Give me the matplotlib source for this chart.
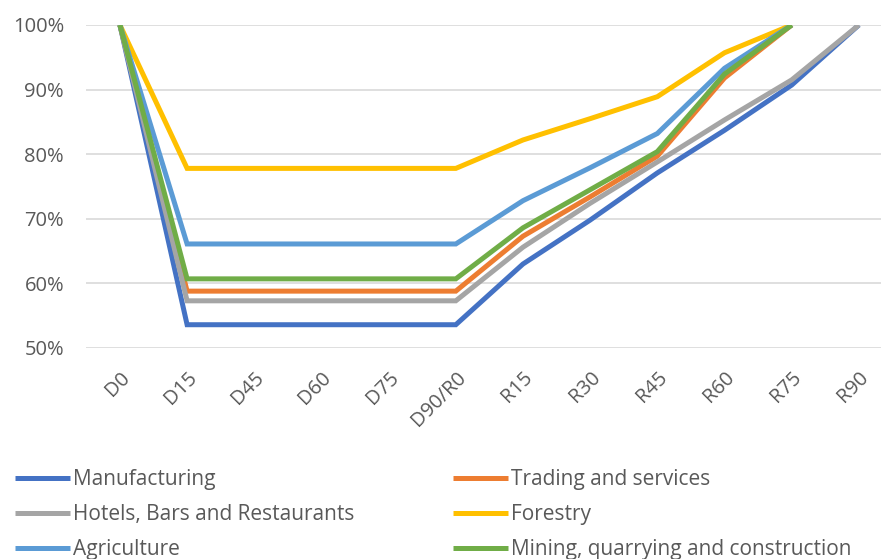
import numpy as np
import matplotlib.pyplot as plt
from matplotlib.ticker import PercentFormatter

# categories along the x axis
periods = ["D0", "D15", "D45", "D60", "D75", "D90/R0",
           "R15", "R30", "R45", "R60", "R75", "R90"]

nan = np.nan
manufacturing = [1.0, .536, .536, .536, .536, .536, .630, .698, .771, .837, .907, 1.0]
trading = [1.0, .588, .588, .588, .588, .588, .673, .734, .797, .918, 1.0, nan]
hotels = [1.0, .573, .573, .573, .573, .573, .656, .724, .788, .853, .915, 1.0]
forestry = [1.0, .778, .778, .778, .778, .778, .822, .855, .889, .957, 1.0, nan]
agriculture = [1.0, .661, .661, .661, .661, .661, .728, .779, .832, .933, 1.0, nan]
mining = [1.0, .607, .607, .607, .607, .607, .686, .745, .804, .924, 1.0, nan]

series = [
    ("Manufacturing", manufacturing, "#4472C4"),
    ("Trading and services", trading, "#ED7D31"),
    ("Hotels, Bars and Restaurants", hotels, "#A5A5A5"),
    ("Forestry", forestry, "#FFC000"),
    ("Agriculture", agriculture, "#5B9BD5"),
    ("Mining, quarrying and construction", mining, "#70AD47"),
]

plt.rcParams['font.family'] = ['Open Sans', 'DejaVu Sans']

fig = plt.figure(figsize=(8.81, 5.59), dpi=100)
ax = fig.add_axes([0.098, 0.3775, 0.915, 0.5778])

x = np.arange(len(periods))
handles = {}
for name, vals, col in series:
    ln, = ax.plot(x, vals, color=col, lw=3.6, solid_joinstyle='miter',
                  solid_capstyle='butt', label=name)
    handles[name] = ln

ax.set_xlim(-0.5, len(periods) - 0.5)
ax.set_ylim(0.5, 1.0)
ax.set_yticks(np.arange(0.5, 1.01, 0.1))
ax.yaxis.set_major_formatter(PercentFormatter(1.0, decimals=0))
ax.set_xticks(x)
ax.set_xticklabels(periods, rotation=45, ha='right', va='top',
                   rotation_mode='anchor')

ax.grid(axis='y', color='#D9D9D9', lw=1.2)
ax.set_axisbelow(True)
for s in ax.spines.values():
    s.set_visible(False)
ax.tick_params(axis='both', length=0, colors='#595959', labelsize=14.5)
ax.tick_params(axis='y', pad=16)
ax.tick_params(axis='x', pad=14)

# legend: two columns placed separately
left_names = ["Manufacturing", "Hotels, Bars and Restaurants", "Agriculture"]
right_names = ["Trading and services", "Forestry", "Mining, quarrying and construction"]
common = dict(loc='upper left', frameon=False, fontsize=15, labelcolor='#595959',
              handlelength=2.65, handletextpad=0.15, labelspacing=0.68,
              borderaxespad=0, borderpad=0)
leg1 = fig.legend([handles[n] for n in left_names], left_names,
                  bbox_to_anchor=(15 / 881, 1 - 469 / 559), **common)
leg2 = fig.legend([handles[n] for n in right_names], right_names,
                  bbox_to_anchor=(453 / 881, 1 - 469 / 559), **common)

fig.savefig("out.png", dpi=100)
